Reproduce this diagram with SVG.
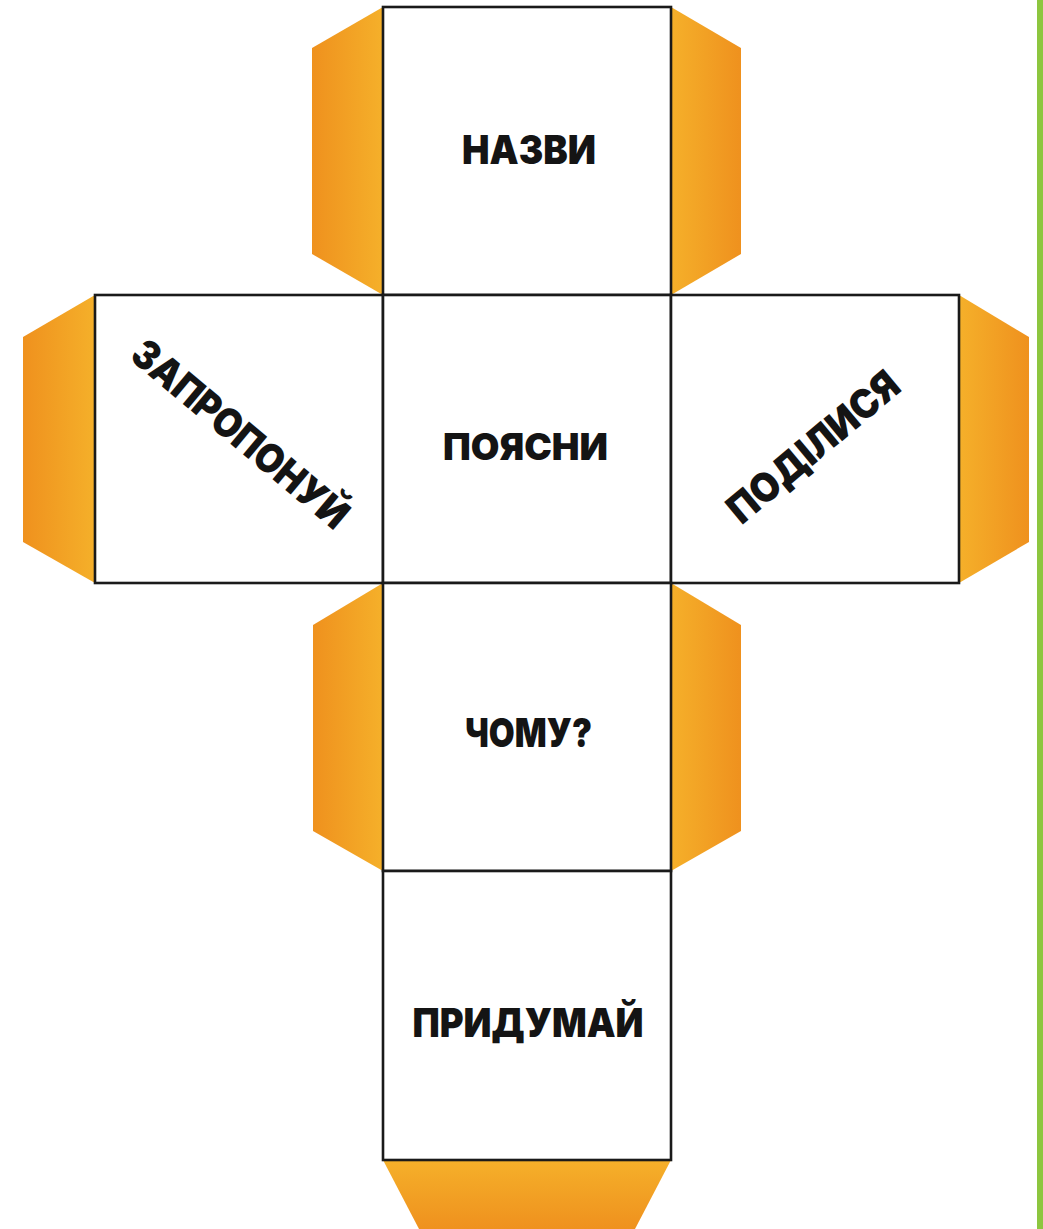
<svg xmlns="http://www.w3.org/2000/svg" width="1043" height="1229" viewBox="0 0 1043 1229">
<style>
.face{fill:#ffffff;stroke:#1a1a1a;stroke-width:2.6}
.lbl{font-family:Inter,"Noto Sans","DejaVu Sans",sans-serif;font-weight:900;font-size:40px;fill:#141414;text-anchor:middle}
</style>
<defs>
<linearGradient id="gL" x1="0" y1="0" x2="1" y2="0"><stop offset="0" stop-color="#EF911E"/><stop offset="1" stop-color="#F5B02A"/></linearGradient>
<linearGradient id="gR" x1="0" y1="0" x2="1" y2="0"><stop offset="0" stop-color="#F5B02A"/><stop offset="1" stop-color="#EF911E"/></linearGradient>
<linearGradient id="gB" x1="0" y1="0" x2="0" y2="1"><stop offset="0" stop-color="#F5B02A"/><stop offset="1" stop-color="#EF911E"/></linearGradient>
</defs>
<rect width="1043" height="1229" fill="#ffffff"/>
<rect x="1037" y="0" width="6" height="1229" fill="#8DC63F"/>
<g id="tabs">
<polygon points="383,7 312,48 312,254 383,295" fill="url(#gL)"/>
<polygon points="671,7 741,48 741,254 671,295" fill="url(#gR)"/>
<polygon points="95,295 23,337 23,542 95,583" fill="url(#gL)"/>
<polygon points="959,295 1029,337 1029,542 959,583" fill="url(#gR)"/>
<polygon points="383,583 313,625 313,831 383,871" fill="url(#gL)"/>
<polygon points="671,583 741,625 741,831 671,871" fill="url(#gR)"/>
<polygon points="383,1160 671,1160 635,1229 419,1229" fill="url(#gB)"/>
</g>
<g id="face-top"><rect class="face" x="383" y="7" width="288" height="288"/><text class="lbl" x="529" y="164" textLength="134" lengthAdjust="spacingAndGlyphs">НАЗВИ</text></g>
<g id="face-left"><rect class="face" x="95" y="295" width="288" height="288"/><text class="lbl" transform="translate(240.5,433.5) rotate(40)" x="0" y="14.5" textLength="269" lengthAdjust="spacingAndGlyphs">ЗАПРОПОНУЙ</text></g>
<g id="face-center"><rect class="face" x="383" y="295" width="288" height="288"/><text class="lbl" x="525.5" y="460" style="font-size:37px" textLength="165" lengthAdjust="spacingAndGlyphs">ПОЯСНИ</text></g>
<g id="face-right"><rect class="face" x="671" y="295" width="288" height="288"/><text class="lbl" transform="translate(813,446.5) rotate(-40)" x="0" y="14.5" textLength="211" lengthAdjust="spacingAndGlyphs">ПОДІЛИСЯ</text></g>
<g id="face-below"><rect class="face" x="383" y="583" width="288" height="288"/><text class="lbl" x="528.5" y="747" textLength="127" lengthAdjust="spacingAndGlyphs">ЧОМУ?</text></g>
<g id="face-bottom"><rect class="face" x="383" y="871" width="288" height="289"/><text class="lbl" x="528" y="1037" textLength="231" lengthAdjust="spacingAndGlyphs">ПРИДУМАЙ</text></g>
<g id="connectors"></g>
</svg>
